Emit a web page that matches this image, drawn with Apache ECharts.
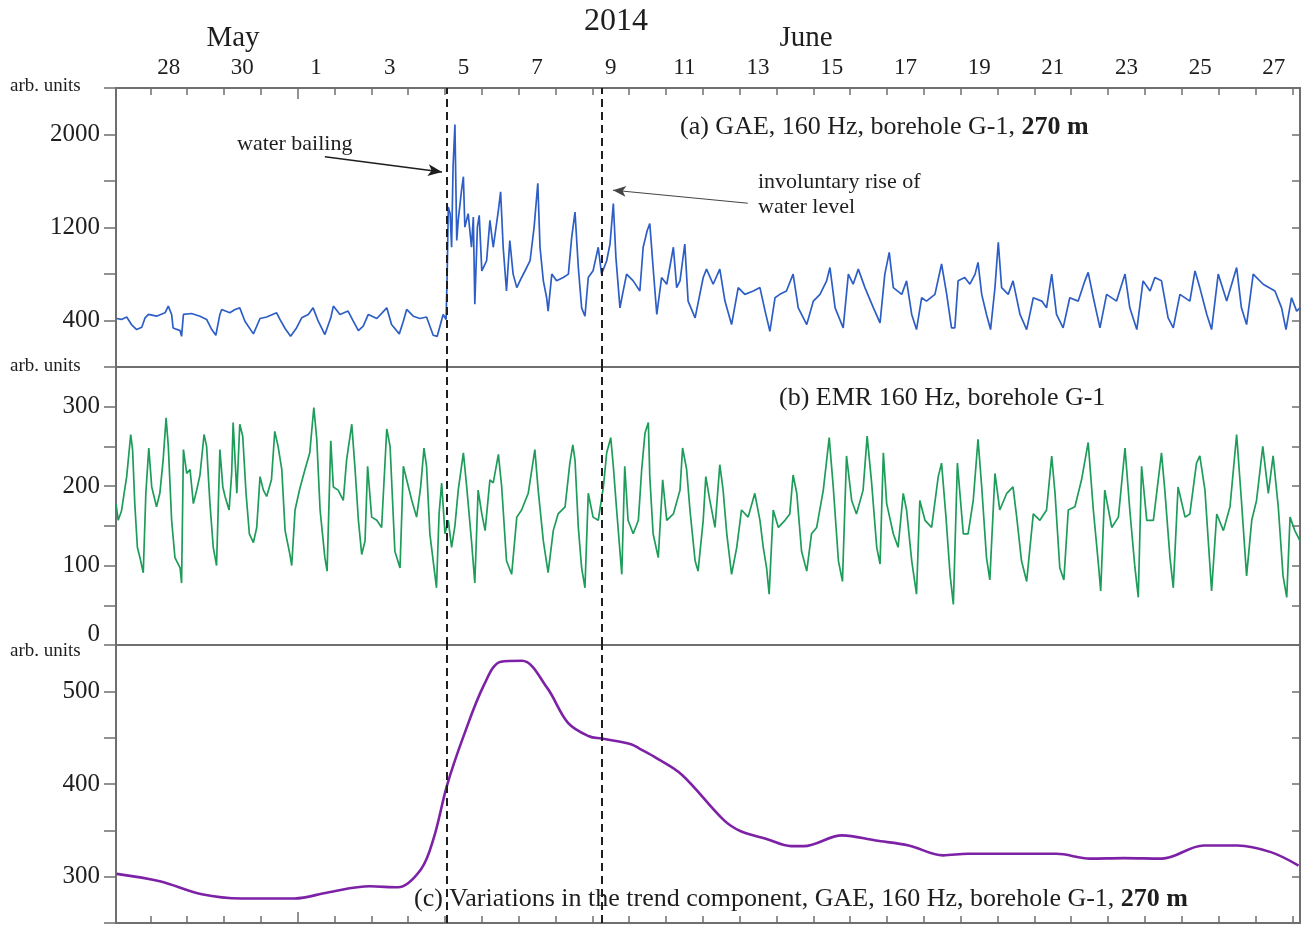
<!DOCTYPE html>
<html>
<head>
<meta charset="utf-8">
<script src="https://cdn.jsdelivr.net/npm/echarts@6/dist/echarts.min.js"></script>
<style>
  html, body { margin: 0; padding: 0; background: #fff; }
  #chart { width: 1302px; height: 926px; }
</style>
</head>
<body>
<div id="chart"></div>
<script>
// x values are days counted from May 1 00:00 (so June 1 00:00 = 31)
const xMin = 26.07, xMax = 58.21;
const tickDays = [27, 28, 29, 30, 31, 32, 33, 34, 35, 36, 37, 38, 39, 40, 41, 42,
    43, 44, 45, 46, 47, 48, 49, 50, 51, 52, 53, 54, 55, 56, 57, 58];
const labelDays = [27.5, 29.5, 31.5, 33.5, 35.5, 37.5, 39.5, 41.5, 43.5, 45.5, 47.5, 49.5, 51.5, 53.5, 55.5, 57.5];
const labelText = ['28', '30', '1', '3', '5', '7', '9', '11', '13', '15', '17', '19', '21', '23', '25', '27'];
const monthStart = [31];
const eventDays = [35.06, 39.25];   // water bailing, involuntary rise of water level

// (a) GAE, 160 Hz
const gae = [
    [26.09, 417], [26.22, 409], [26.36, 430], [26.49, 365], [26.63, 322], [26.77, 342], [26.86, 423], [26.95, 452],
    [27.17, 437], [27.40, 466], [27.49, 524], [27.58, 452], [27.62, 336], [27.81, 313], [27.85, 264], [27.90, 452],
    [28.12, 460], [28.35, 437], [28.53, 409], [28.67, 322], [28.78, 273], [28.89, 452], [28.94, 495], [29.16, 466],
    [29.30, 495], [29.43, 509], [29.57, 394], [29.80, 285], [29.98, 417], [30.16, 430], [30.43, 466], [30.52, 409],
    [30.66, 331], [30.81, 264], [30.97, 336], [31.11, 423], [31.29, 452], [31.42, 509], [31.56, 394], [31.74, 279],
    [31.90, 423], [31.97, 524], [32.15, 452], [32.37, 481], [32.51, 394], [32.65, 313], [32.78, 351], [32.92, 452],
    [33.15, 417], [33.42, 509], [33.55, 365], [33.76, 285], [33.87, 394], [33.96, 495], [34.14, 437], [34.32, 417],
    [34.50, 430], [34.68, 273], [34.79, 264], [34.95, 452], [35.03, 409], [35.06, 799], [35.09, 1376], [35.14, 1319],
    [35.18, 1030], [35.22, 1723], [35.27, 2085], [35.32, 1088], [35.36, 1261], [35.45, 1521], [35.50, 1637], [35.54, 1203],
    [35.63, 1319], [35.72, 1030], [35.77, 1290], [35.81, 539], [35.88, 1203], [35.93, 1305], [36.00, 827], [36.13, 914],
    [36.22, 1261], [36.31, 1030], [36.45, 1348], [36.51, 1507], [36.58, 1030], [36.67, 654], [36.76, 1088], [36.85, 799],
    [36.95, 683], [37.08, 770], [37.22, 856], [37.31, 914], [37.42, 1203], [37.52, 1580], [37.58, 1030], [37.67, 741],
    [37.76, 596], [37.80, 481], [37.90, 799], [38.03, 741], [38.21, 770], [38.35, 799], [38.44, 1116], [38.53, 1333],
    [38.62, 856], [38.71, 509], [38.80, 437], [38.89, 770], [39.02, 827], [39.16, 1030], [39.25, 799], [39.39, 914],
    [39.48, 1058], [39.57, 1406], [39.64, 943], [39.75, 509], [39.82, 625], [39.93, 799], [40.11, 741], [40.29, 654],
    [40.38, 1030], [40.49, 1174], [40.56, 1233], [40.65, 856], [40.75, 452], [40.88, 770], [41.02, 712], [41.20, 1030],
    [41.29, 683], [41.38, 741], [41.51, 1058], [41.60, 567], [41.79, 423], [42.01, 770], [42.10, 842], [42.28, 712],
    [42.46, 842], [42.60, 567], [42.78, 365], [42.96, 683], [43.14, 625], [43.37, 654], [43.55, 683], [43.69, 481],
    [43.82, 307], [43.96, 596], [44.09, 625], [44.27, 654], [44.45, 799], [44.59, 509], [44.82, 365], [45.00, 567],
    [45.18, 625], [45.36, 741], [45.45, 856], [45.59, 509], [45.81, 336], [45.95, 799], [46.08, 712], [46.22, 842],
    [46.40, 683], [46.63, 509], [46.81, 379], [46.94, 799], [47.06, 986], [47.17, 683], [47.40, 625], [47.53, 741],
    [47.67, 452], [47.80, 322], [47.94, 596], [48.07, 567], [48.30, 625], [48.48, 886], [48.62, 625], [48.75, 336],
    [48.84, 336], [48.93, 741], [49.11, 770], [49.25, 712], [49.39, 799], [49.47, 900], [49.57, 625], [49.70, 452],
    [49.81, 322], [49.93, 683], [50.02, 1073], [50.11, 683], [50.29, 625], [50.42, 741], [50.61, 452], [50.79, 322],
    [50.97, 596], [51.20, 567], [51.33, 509], [51.47, 799], [51.60, 452], [51.78, 336], [51.96, 596], [52.19, 567],
    [52.37, 741], [52.46, 814], [52.60, 596], [52.78, 336], [52.96, 625], [53.23, 567], [53.46, 799], [53.59, 509],
    [53.78, 322], [53.95, 741], [54.14, 654], [54.27, 770], [54.45, 741], [54.63, 423], [54.77, 336], [54.95, 625],
    [55.22, 567], [55.36, 827], [55.49, 683], [55.68, 452], [55.81, 322], [55.99, 799], [56.22, 567], [56.49, 856],
    [56.62, 509], [56.76, 365], [56.94, 799], [57.21, 712], [57.53, 654], [57.71, 509], [57.83, 322], [57.98, 596],
    [58.12, 481], [58.21, 509]
];

// (b) EMR 160 Hz
const emr = [
    [26.07, 178], [26.13, 157], [26.22, 169], [26.29, 191], [26.36, 212], [26.47, 265], [26.52, 246], [26.58, 178],
    [26.65, 123], [26.72, 110], [26.81, 91], [26.88, 191], [26.96, 248], [27.04, 199], [27.17, 174], [27.26, 191],
    [27.35, 233], [27.43, 286], [27.49, 250], [27.58, 157], [27.67, 110], [27.81, 97], [27.85, 78], [27.90, 246],
    [27.99, 216], [28.08, 221], [28.17, 178], [28.26, 195], [28.35, 214], [28.46, 265], [28.53, 250], [28.62, 178],
    [28.71, 123], [28.80, 100], [28.89, 246], [28.97, 199], [29.03, 187], [29.14, 170], [29.21, 216], [29.25, 280],
    [29.35, 191], [29.43, 278], [29.51, 263], [29.60, 191], [29.69, 140], [29.80, 129], [29.89, 148], [29.98, 212],
    [30.07, 195], [30.16, 187], [30.29, 208], [30.38, 269], [30.47, 250], [30.57, 221], [30.66, 144], [30.79, 114],
    [30.84, 100], [30.93, 170], [31.06, 197], [31.20, 221], [31.33, 242], [31.44, 299], [31.52, 259], [31.61, 170],
    [31.74, 110], [31.80, 93], [31.90, 257], [31.97, 199], [32.10, 195], [32.24, 182], [32.33, 233], [32.47, 278],
    [32.56, 221], [32.65, 157], [32.74, 114], [32.83, 131], [32.90, 225], [33.01, 161], [33.15, 157], [33.28, 148],
    [33.42, 272], [33.51, 250], [33.64, 118], [33.78, 97], [33.87, 225], [33.96, 208], [34.10, 182], [34.23, 161],
    [34.34, 199], [34.43, 248], [34.50, 225], [34.59, 140], [34.68, 106], [34.77, 72], [34.84, 165], [34.91, 204],
    [35.00, 140], [35.09, 157], [35.18, 123], [35.27, 150], [35.36, 195], [35.50, 242], [35.59, 199], [35.72, 131],
    [35.81, 78], [35.90, 195], [36.00, 165], [36.09, 144], [36.22, 208], [36.31, 204], [36.45, 240], [36.54, 199],
    [36.67, 106], [36.81, 89], [36.95, 161], [37.08, 170], [37.26, 191], [37.44, 246], [37.53, 195], [37.67, 131],
    [37.80, 91], [37.94, 144], [38.07, 165], [38.26, 174], [38.39, 229], [38.47, 252], [38.53, 233], [38.62, 148],
    [38.71, 97], [38.80, 72], [38.89, 191], [39.02, 161], [39.16, 157], [39.30, 199], [39.39, 242], [39.50, 261],
    [39.57, 225], [39.66, 170], [39.80, 89], [39.88, 225], [39.97, 157], [40.11, 140], [40.25, 157], [40.34, 221],
    [40.43, 267], [40.52, 280], [40.56, 212], [40.65, 140], [40.79, 110], [40.91, 208], [41.02, 157], [41.20, 165],
    [41.38, 195], [41.45, 248], [41.56, 221], [41.65, 170], [41.79, 106], [41.87, 93], [42.01, 157], [42.08, 212],
    [42.19, 182], [42.33, 148], [42.46, 227], [42.55, 195], [42.65, 140], [42.78, 89], [42.92, 123], [43.05, 170],
    [43.23, 161], [43.41, 191], [43.55, 157], [43.64, 123], [43.73, 97], [43.80, 64], [43.91, 170], [44.05, 148],
    [44.23, 157], [44.36, 165], [44.45, 214], [44.55, 191], [44.68, 118], [44.82, 93], [44.95, 140], [45.09, 148],
    [45.27, 195], [45.43, 261], [45.54, 199], [45.68, 106], [45.79, 80], [45.90, 238], [46.04, 182], [46.17, 165],
    [46.35, 195], [46.46, 263], [46.58, 205], [46.72, 123], [46.81, 102], [46.90, 242], [46.99, 178], [47.17, 140],
    [47.30, 123], [47.44, 191], [47.53, 170], [47.67, 106], [47.80, 64], [47.89, 182], [48.03, 157], [48.21, 148],
    [48.39, 212], [48.48, 229], [48.60, 161], [48.71, 89], [48.80, 51], [48.91, 229], [49.07, 140], [49.20, 140],
    [49.34, 182], [49.47, 259], [49.57, 199], [49.70, 110], [49.79, 82], [49.93, 216], [50.06, 170], [50.25, 191],
    [50.42, 199], [50.52, 161], [50.65, 106], [50.79, 80], [50.97, 165], [51.15, 157], [51.33, 170], [51.47, 238],
    [51.56, 191], [51.69, 97], [51.80, 82], [51.92, 170], [52.10, 174], [52.28, 208], [52.46, 255], [52.60, 170],
    [52.73, 106], [52.80, 68], [52.91, 195], [53.10, 148], [53.28, 161], [53.46, 248], [53.59, 170], [53.73, 97],
    [53.82, 60], [53.91, 225], [54.05, 157], [54.23, 157], [54.45, 242], [54.54, 195], [54.68, 110], [54.77, 72],
    [54.90, 199], [55.09, 161], [55.22, 165], [55.40, 229], [55.49, 238], [55.63, 195], [55.72, 131], [55.81, 68],
    [55.95, 165], [56.13, 144], [56.31, 174], [56.49, 265], [56.62, 182], [56.76, 87], [56.90, 157], [57.03, 182],
    [57.20, 250], [57.35, 191], [57.48, 238], [57.62, 174], [57.75, 87], [57.85, 60], [57.94, 161], [58.07, 144],
    [58.21, 131]
];

// (c) trend component of GAE
const trend = [
    [26.09, 303], [27.26, 295], [28.40, 281], [29.49, 276.5], [30.92, 276.5], [31.82, 283], [32.96, 289.6], [33.72, 288.5],
    [34.35, 308], [34.69, 341], [35.06, 399], [35.49, 450], [36.06, 507], [36.52, 532], [37.09, 533], [37.77, 504],
    [38.34, 466], [38.91, 451.5], [39.26, 449], [40.05, 443], [40.29, 438], [40.74, 428], [41.43, 410], [42.57, 361],
    [43.03, 349], [43.71, 341], [44.40, 333], [44.74, 333], [45.78, 344.6], [46.69, 339], [47.59, 333.7], [48.52, 323],
    [49.19, 324.7], [51.60, 324.7], [52.51, 319.5], [53.43, 320], [54.46, 319.5], [55.60, 333.7], [56.51, 333.7], [57.42, 326.5],
    [58.17, 312]
];

const serif = '"Liberation Serif", "Times New Roman", serif';
const axisGray = '#6f6f6f';
const ink = '#1e1e1e';

let chart = echarts.init(document.getElementById('chart'), null, {renderer: 'canvas'});

// grids 0-2 are the panels, grids 3 and 4 overlay panels (a) and (c) only to carry the longer June tick
let grids = [
    {left: 116, right: 2, top: 88, height: 279, show: false},
    {left: 116, right: 2, top: 367, height: 278, show: false},
    {left: 116, right: 2, top: 645, height: 278, show: false},
    {left: 116, right: 2, top: 88, height: 279, show: false},
    {left: 116, right: 2, top: 645, height: 278, show: false}
];

let lineOnly = {show: true, onZero: false, lineStyle: {color: axisGray, width: 2}};
let tickLine = {color: axisGray, width: 1.5};

function xAxisBase(gridIndex, position) {
    return {
        type: 'value', gridIndex: gridIndex, position: position,
        min: xMin, max: xMax,
        axisLine: lineOnly,
        axisTick: {show: false},
        axisLabel: {show: false},
        splitLine: {show: false}
    };
}

let xAxes = [];
// 0: top axis of panel (a) with the date labels
let xTop = xAxisBase(0, 'top');
xTop.axisTick = {show: true, inside: true, length: 7, customValues: tickDays, lineStyle: tickLine};
xTop.axisLabel = {
    show: true, customValues: labelDays, margin: 9,
    fontFamily: serif, fontSize: 23, color: ink,
    formatter: function (v) {
        let i = labelDays.indexOf(v);
        return i >= 0 ? labelText[i] : '';
    }
};
xAxes.push(xTop);
// 1: bottom line of panel (a)
xAxes.push(xAxisBase(0, 'bottom'));
// 2: bottom line of panel (b)
xAxes.push(xAxisBase(1, 'bottom'));
// 3: bottom axis of panel (c)
let xBottom = xAxisBase(2, 'bottom');
xBottom.axisTick = {show: true, inside: true, length: 7, customValues: tickDays, lineStyle: tickLine};
xAxes.push(xBottom);
// 4, 5: longer tick at the start of June (top of (a), bottom of (c))
let xMonth = xAxisBase(3, 'top');
xMonth.axisLine = {show: false, onZero: false};
xMonth.axisTick = {show: true, inside: true, length: 11, customValues: monthStart, lineStyle: tickLine};
xAxes.push(xMonth);
let xMonthBottom = xAxisBase(4, 'bottom');
xMonthBottom.axisLine = {show: false, onZero: false};
xMonthBottom.axisTick = {show: true, inside: true, length: 11, customValues: monthStart, lineStyle: tickLine};
xAxes.push(xMonthBottom);

function yPair(gridIndex, min, max, interval, formatter, rich) {
    let left = {
        type: 'value', gridIndex: gridIndex, position: 'left',
        min: min, max: max, interval: interval,
        axisLine: lineOnly,
        axisTick: {show: true, inside: false, length: 12, lineStyle: tickLine},
        axisLabel: {
            show: true, margin: 16, fontFamily: serif, fontSize: 25, color: ink,
            formatter: formatter, rich: rich || {},
            showMinLabel: true, showMaxLabel: true
        },
        splitLine: {show: false}
    };
    let right = {
        type: 'value', gridIndex: gridIndex, position: 'right',
        min: min, max: max, interval: interval,
        axisLine: lineOnly,
        axisTick: {show: true, inside: true, length: 8, lineStyle: tickLine},
        axisLabel: {show: false},
        splitLine: {show: false}
    };
    return [left, right];
}

function hiddenY(gridIndex) {
    return {type: 'value', gridIndex: gridIndex, min: 0, max: 1, show: false};
}

let yAxes = [].concat(
    yPair(0, 0, 2400, 400, function (v) {
        return v % 800 === 400 ? String(v) : '';
    }),
    yPair(1, 0, 350, 50, function (v) {
        if (v === 0) return '{low|0}';
        return (v % 100 === 0 && v <= 300) ? String(v) : '';
    }, {low: {fontFamily: serif, fontSize: 25, color: ink, padding: [0, 0, 22, 0]}}),
    yPair(2, 250, 550, 50, function (v) {
        return (v % 100 === 0 && v > 250 && v < 550) ? String(v) : '';
    }),
    [hiddenY(3), hiddenY(4)]
);

let dashStyle = {type: [8, 5], color: ink, width: 2};

function eventLines(extra) {
    let data = eventDays.map(function (d) {
        return {xAxis: d, lineStyle: dashStyle};
    });
    return {
        silent: true, symbol: ['none', 'none'], animation: false,
        label: {show: false},
        lineStyle: dashStyle,
        data: data.concat(extra || [])
    };
}

// arrows pointing at the two events in panel (a)
let arrows = [
    [
        {coord: [31.74, 1808], symbol: 'none', lineStyle: {type: 'solid', color: ink, width: 1.5}},
        {coord: [34.92, 1678], symbol: 'arrow', symbolSize: [9, 14]}
    ],
    [
        {coord: [43.22, 1409], symbol: 'none', lineStyle: {type: 'solid', color: '#444', width: 1}},
        {coord: [39.56, 1521], symbol: 'arrow', symbolSize: [8, 13]}
    ]
];

let series = [
    {
        name: 'GAE', type: 'line', xAxisIndex: 0, yAxisIndex: 0,
        data: gae, showSymbol: false, silent: true,
        lineStyle: {color: '#2d5ec6', width: 1.7},
        markLine: eventLines(arrows)
    },
    {
        name: 'EMR', type: 'line', xAxisIndex: 2, yAxisIndex: 2,
        data: emr, showSymbol: false, silent: true,
        lineStyle: {color: '#1e9c5a', width: 1.7},
        markLine: eventLines()
    },
    {
        name: 'Trend', type: 'line', xAxisIndex: 3, yAxisIndex: 4,
        data: trend, showSymbol: false, silent: true,
        smooth: 0.35,
        lineStyle: {color: '#7d22a6', width: 2.6},
        markLine: eventLines()
    }
];

function txt(x, y, text, size, align, rich) {
    return {
        type: 'text', x: x, y: y, silent: true,
        style: {
            text: text, fontFamily: serif, fontSize: size, fill: ink,
            align: align || 'left', verticalAlign: 'middle', rich: rich || {}
        }
    };
}

let boldRich = {b: {fontFamily: serif, fontSize: 26, fontWeight: 'bold', fill: ink, color: ink}};

let graphic = [
    txt(616, 22, '2014', 32, 'center'),
    txt(233, 38, 'May', 29, 'center'),
    txt(806, 38, 'June', 29, 'center'),
    txt(10, 86, 'arb. units', 19),
    txt(10, 366, 'arb. units', 19),
    txt(10, 651, 'arb. units', 19),
    txt(680, 127, '(a) GAE, 160 Hz, borehole G-1, {b|270 m}', 26, 'left', boldRich),
    txt(237, 144, 'water bailing', 22),
    txt(758, 182, 'involuntary rise of', 22),
    txt(758, 207, 'water level', 22),
    txt(779, 398, '(b) EMR 160 Hz, borehole G-1', 26),
    txt(414, 899, '(c) Variations in the trend component, GAE, 160 Hz, borehole G-1, {b|270 m}', 26, 'left', boldRich)
];

chart.setOption({
    animation: false,
    backgroundColor: '#ffffff',
    textStyle: {fontFamily: serif},
    grid: grids,
    xAxis: xAxes,
    yAxis: yAxes,
    series: series,
    graphic: graphic
});
</script>
</body>
</html>
